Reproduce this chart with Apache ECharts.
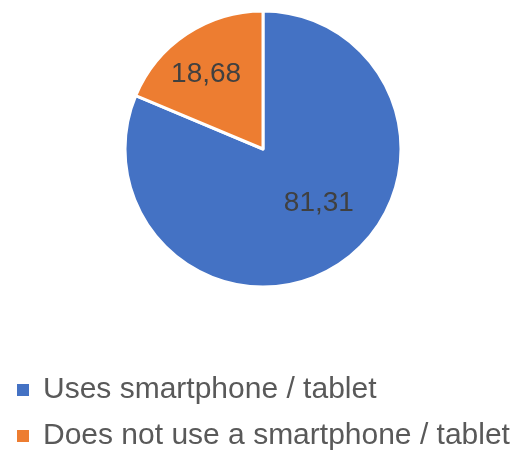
<!DOCTYPE html>
<html>
<head>
<meta charset="utf-8">
<script src="https://cdn.jsdelivr.net/npm/echarts@6/dist/echarts.min.js"></script>
<style>
  html, body { margin: 0; padding: 0; background: #fff; }
  #chart { width: 524px; height: 466px; }
</style>
</head>
<body>
<div id="chart"></div>
<script>
// data
const categories = ["Uses smartphone / tablet", "Does not use a smartphone / tablet"];
const values = [81.31, 18.68];
const colors = ["#4472C4", "#ED7D31"];

// label nudges so the numbers sit where Excel put them
const labelOffsets = [[16, -6], [-17, -15]];

let myChart = echarts.init(document.getElementById("chart"));

myChart.setOption({
  color: colors,
  textStyle: { fontFamily: "Liberation Sans" },
  legend: {
    orient: "vertical",
    left: 15,
    top: 375,
    padding: 0,
    icon: "rect",
    itemWidth: 14,
    itemHeight: 14,
    itemGap: 16,
    data: categories,
    textStyle: {
      fontFamily: "Liberation Sans",
      fontSize: 30,
      lineHeight: 30,
      color: "#595959",
      padding: [0, 0, 0, 8],
    },
  },
  series: [
    {
      type: "pie",
      center: [263, 149],
      radius: 138,
      startAngle: 90,
      clockwise: true,
      animation: false,
      itemStyle: { borderColor: "#fff", borderWidth: 3 },
      label: {
        position: "inside",
        fontFamily: "Liberation Sans",
        fontSize: 28,
        color: "#404040",
        formatter: (p) => String(p.value).replace(".", ","),
      },
      labelLine: { show: false },
      emphasis: { disabled: true },
      data: categories.map((name, i) => ({
        name: name,
        value: values[i],
        label: { offset: labelOffsets[i] },
      })),
    },
  ],
});
</script>
</body>
</html>
